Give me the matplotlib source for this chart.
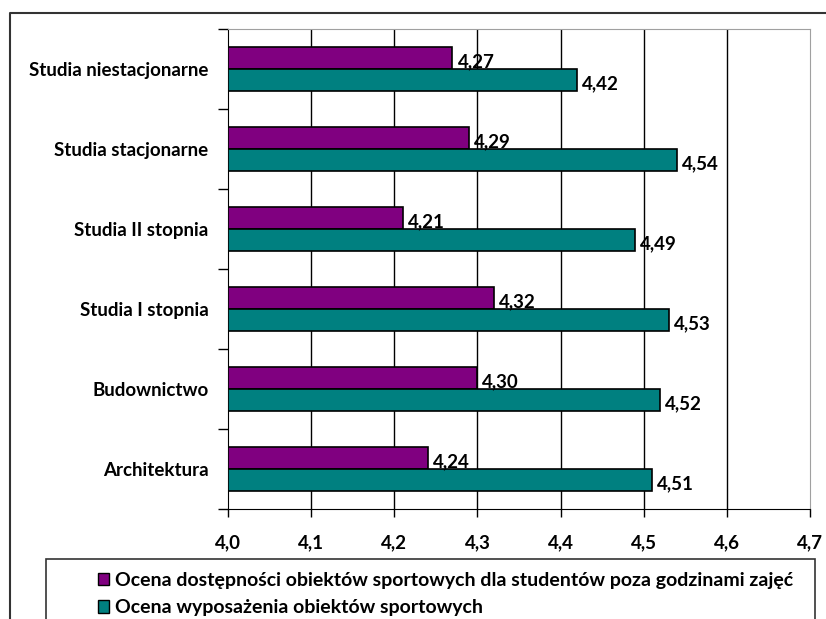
import matplotlib.pyplot as plt
from matplotlib.patches import Patch, Rectangle
from matplotlib.lines import Line2D
import numpy as np

plt.rcParams['font.family'] = ['Lato', 'DejaVu Sans']
plt.rcParams['font.weight'] = 'bold'

categories = ['Architektura', 'Budownictwo', 'Studia I stopnia',
              'Studia II stopnia', 'Studia stacjonarne', 'Studia niestacjonarne']
dostepnosc = [4.24, 4.30, 4.32, 4.21, 4.29, 4.27]
wyposazenie = [4.51, 4.52, 4.53, 4.49, 4.54, 4.42]
series_names = ['Ocena dostępności obiektów sportowych dla studentów poza godzinami zajęć',
                'Ocena wyposażenia obiektów sportowych']
xticks = [4.0, 4.1, 4.2, 4.3, 4.4, 4.5, 4.6, 4.7]

purple = '#800080'
teal = '#008080'
fs = 13.5

W, H = 826, 619
fig = plt.figure(figsize=(W / 100, H / 100), dpi=100)
ax = fig.add_axes([228 / W, 1 - 509 / H, (810 - 228) / W, (509 - 29) / H])

y = np.arange(len(categories))
h = 0.28
ax.barh(y + h / 2, [v - 4.0 for v in dostepnosc], left=4.0, height=h,
        color=purple, edgecolor='black', linewidth=1.2, zorder=3)
ax.barh(y - h / 2, [v - 4.0 for v in wyposazenie], left=4.0, height=h,
        color=teal, edgecolor='black', linewidth=1.2, zorder=3)

for yi, v in zip(y, dostepnosc):
    ax.text(v + 0.006, yi + h / 2 - 0.05, f'{v:.2f}'.replace('.', ','),
            va='center', ha='left', fontsize=fs, fontweight='bold')
for yi, v in zip(y, wyposazenie):
    ax.text(v + 0.006, yi - h / 2 - 0.05, f'{v:.2f}'.replace('.', ','),
            va='center', ha='left', fontsize=fs, fontweight='bold')

ax.set_xlim(4.0, 4.7)
ax.set_ylim(-0.5, len(categories) - 0.5)
ax.set_xticks(xticks)
ax.set_xticklabels([f'{t:.1f}'.replace('.', ',') for t in xticks], fontsize=fs, fontweight='bold')
ax.tick_params(axis='x', direction='out', length=6, width=1, pad=12)

ax.set_yticks(y)
ax.set_yticklabels(categories, fontsize=fs, fontweight='bold')
ax.tick_params(axis='y', which='major', length=0, pad=14)
ax.set_yticks(np.arange(len(categories) + 1) - 0.5, minor=True)
ax.tick_params(axis='y', which='minor', direction='out', length=7, width=1)

for t in xticks[1:-1]:
    ax.axvline(t, color='black', linewidth=1, zorder=1)

ax.spines['left'].set_color('black')
ax.spines['bottom'].set_color('black')
ax.spines['top'].set_color('#a0a0a0')
ax.spines['right'].set_color('#a0a0a0')

# outer chart border
fig.add_artist(Line2D([10 / W, 10 / W, 1.0], [0.0, 1 - 13 / H, 1 - 13 / H],
                      transform=fig.transFigure, color='#333333', linewidth=1.5))

# legend box
fig.add_artist(Rectangle((46 / W, -0.02), (815 - 46) / W, 0.02 + (619 - 559) / H,
                         transform=fig.transFigure, facecolor='white',
                         edgecolor='#333333', linewidth=1.2))
handles = [Patch(facecolor=purple, edgecolor='black'),
           Patch(facecolor=teal, edgecolor='black')]
fig.legend(handles, series_names, loc='upper left',
           bbox_to_anchor=(88 / W, 1 - 562 / H), frameon=False,
           fontsize=14, handlelength=0.6, handleheight=0.6, handletextpad=0.3,
           labelspacing=0.55, borderpad=0.0)

fig.savefig('out.png', dpi=100)
